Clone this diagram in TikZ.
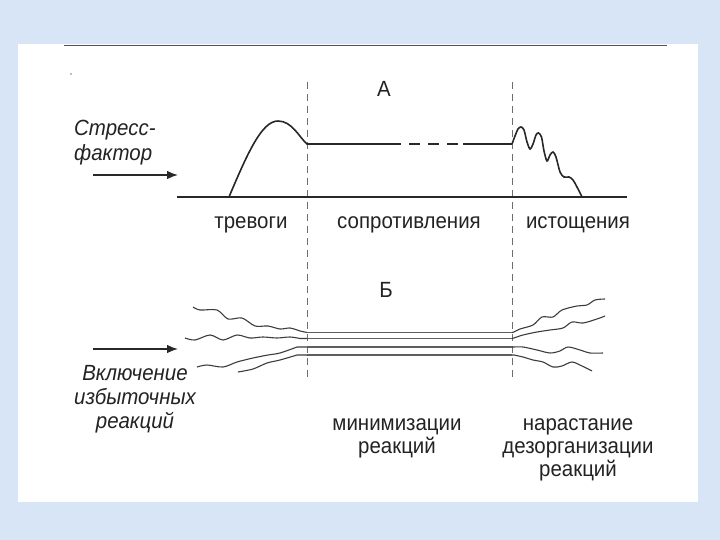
\documentclass[tikz,border=0pt]{standalone}
\usepackage{fontspec}
\setmainfont{Liberation Sans}[FakeStretch=0.93]
\usetikzlibrary{arrows.meta}
\definecolor{bgblue}{RGB}{216,229,246}
\definecolor{ink}{RGB}{40,40,40}
\definecolor{txt}{RGB}{35,35,35}
\definecolor{dashgray}{RGB}{110,110,110}
\tikzset{
  lbl/.style={font=\fontsize{22}{23}\selectfont, text=txt, inner sep=0pt, align=center},
  ilbl/.style={font=\fontsize{22}{24}\selectfont\itshape, text=txt, inner sep=0pt},
  sepline/.style={draw=dashgray, line width=0.9pt, dash pattern=on 7pt off 5pt},
  curveA/.style={draw=ink, line width=1.6pt},
  baseA/.style={draw=ink, line width=2.6pt},
  inarrow/.style={draw=ink, line width=1.3pt, -{Latex[length=11pt,width=8.5pt]}},
  wavy/.style={draw=ink!90, line width=1.1pt},
  bundle/.style={draw=ink!75, line width=1.5pt}
}
\begin{document}
\begin{tikzpicture}[x=1pt,y=-1pt]
\useasboundingbox (0,0) rectangle (720,540);
\fill[bgblue] (0,0) rectangle (720,540);
\fill[white] (18,44) rectangle (698,502);
\draw[ink!80, line width=1pt] (64,45.5) -- (667,45.5);
\fill[gray] (71,74) circle (0.9pt);

% separators
\coordinate (s1t) at (307,82); \coordinate (s1b) at (307,380);
\coordinate (s2t) at (512,82); \coordinate (s2b) at (512,380);
\draw[sepline] (s1t) -- (s1b);
\draw[sepline] (s2t) -- (s2b);

% Part A
\node[lbl] (A) at (384,89) {А};
\coordinate (b0) at (177,197); \coordinate (b1) at (627,197);
\draw[baseA] (b0) -- (b1);
\coordinate (c0) at (229,197); \coordinate (c1) at (278,121); \coordinate (c2) at (307,144);
\coordinate (f1) at (390,144); \coordinate (f2) at (463,144); \coordinate (f3) at (512,144);
\draw[curveA] (c0) .. controls (248,152) and (262,121) .. (c1) .. controls (292,121) and (299,137) .. (c2) -- (f1);
\draw[curveA, dash pattern=on 11pt off 8pt] (f1) -- (f2);
\draw[curveA] (f2) -- (f3);
\draw[curveA] plot[smooth, tension=0.5] coordinates {(512,144) (515,136) (518,129) (521,127) (524,130) (527,142) (530,149) (533,144) (536,135) (538.5,133) (541.5,137) (544,151) (547,161) (550,155) (553,152) (556,157) (560,172) (564,177) (569,177) (573,180) (577,187) (582,197)};

\node[ilbl, anchor=west] (sf1) at (74,130) {Стресс-};
\node[ilbl, anchor=west] (sf2) at (74,155) {фактор};
\coordinate (aA0) at (93,175); \coordinate (aA1) at (178,175);
\draw[inarrow] (aA0) -- (aA1);

\node[lbl] (t1) at (251,225) {тревоги};
\node[lbl] (t2) at (409,225) {сопротивления};
\node[lbl] (t3) at (578,225) {истощения};

% Part B
\node[lbl] (B) at (386,290) {Б};
\foreach \y [count=\i] in {332.5,338.5,347,355} {
  \coordinate (m\i l) at (307,\y);
  \coordinate (m\i r) at (512,\y);
  \draw[bundle] (m\i l) -- (m\i r);
}
% left wavy inputs
\draw[wavy] plot[smooth, tension=0.5] coordinates {(193,307) (200,310) (217,310) (228,319) (242,318) (255,326) (268,326) (280,329) (290,328) (300,331)} -- (m1l);
\draw[wavy] plot[smooth, tension=0.5] coordinates {(185,338) (195,340) (210,335) (223,340) (237,335) (250,338) (263,337) (277,338) (290,337) (300,338.5)} -- (m2l);
\draw[wavy] plot[smooth, tension=0.5] coordinates {(197,367) (207,365) (223,367) (237,362) (253,358) (268,355) (280,353) (297,347)} -- (m3l);
\draw[wavy] plot[smooth, tension=0.5] coordinates {(238,372) (253,369) (267,363) (280,360) (297,355)} -- (m4l);
% right wavy outputs
\draw[wavy] (m1r) -- plot[smooth, tension=0.5] coordinates {(514,332) (520,329) (533,325) (542,317) (553,317) (562,310) (577,306) (587,305) (595,300) (605,299)};
\draw[wavy] (m2r) -- plot[smooth, tension=0.5] coordinates {(514,338) (523,335) (537,332) (550,330) (563,328) (572,322) (583,323) (597,319) (605,316)};
\draw[wavy] (m3r) -- plot[smooth, tension=0.5] coordinates {(514,347) (523,347) (537,350) (550,353) (560,351) (568,347) (580,350) (590,353) (603,353)};
\draw[wavy] (m4r) -- plot[smooth, tension=0.5] coordinates {(514,355) (523,357) (533,360) (543,362) (553,367) (562,366) (572,362) (582,366) (592,371)};

\coordinate (aB0) at (93,349); \coordinate (aB1) at (178,349);
\draw[inarrow] (aB0) -- (aB1);
\node[ilbl, align=center] (vk) at (135,399) {Включение\\избыточных\\реакций};

\node[lbl] (mr) at (397,438) {минимизации\\реакций};
\node[lbl] (nd) at (578,450) {нарастание\\дезорганизации\\реакций};
\end{tikzpicture}
\end{document}
